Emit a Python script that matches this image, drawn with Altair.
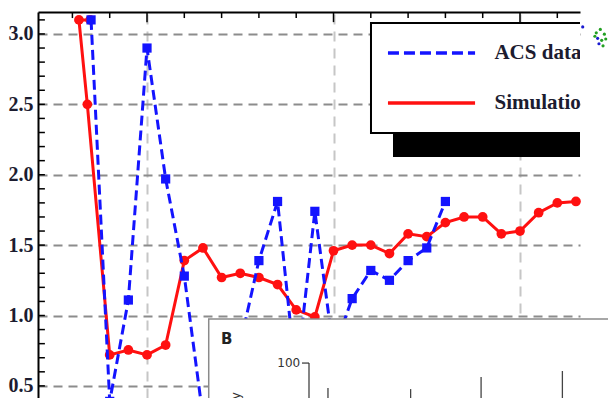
import altair as alt
import pandas as pd

# ---------------- data ----------------
acs_x = list(range(7, 27))
acs_y = [3.10, 0.39, 1.11, 2.90, 1.97, 1.28, 0.28, 0.35, 0.80, 1.39,
         1.81, 0.55, 1.74, 0.75, 1.12, 1.32, 1.25, 1.39, 1.48, 1.81]

sim_x = [6.95, 6.35, 6.8] + list(range(8, 34))
sim_y = [3.10, 3.10, 2.50, 0.72, 0.755, 0.72, 0.79, 1.39, 1.48, 1.27,
         1.30, 1.27, 1.22, 1.04, 0.99, 1.46, 1.50, 1.50, 1.44, 1.58,
         1.56, 1.66, 1.70, 1.70, 1.58, 1.60, 1.73, 1.80, 1.81]

y_tick_values = [0.5, 1.0, 1.5, 2.0, 2.5, 3.0]
x_grid_values = [10, 20, 30]
legend_labels = ["ACS data", "Simulation"]

# inset panel B
inset_bar_x = [11.4, 12.36, 17.5, 22.7, 28.7]
inset_bar_y = [81.8, 73.0, 81.0, 89.8, 94.2]
inset_tick_label = "100"

X_DOM = [4.155, 33.217]
Y_DOM = [0.414, 3.156]
IX_DOM = [-10, 30]
IY_DOM = [74.5, 356.2]

xs = alt.Scale(domain=X_DOM, nice=False, zero=False)
ys = alt.Scale(domain=Y_DOM, nice=False, zero=False)
ixs = alt.Scale(domain=IX_DOM, nice=False, zero=False)
iys = alt.Scale(domain=IY_DOM, nice=False, zero=False)

x_axis = alt.Axis(orient="top", labels=False, ticks=False, domain=True,
                  domainColor="black", domainWidth=2, grid=True,
                  values=x_grid_values, gridColor="#c6c6c6",
                  gridDash=[10, 7], gridWidth=2, title=None)
y_axis = alt.Axis(values=y_tick_values, format=".1f",
                  labelFont="Liberation Serif", labelFontWeight="bold",
                  labelFontSize=20, labelColor="#1c1c30", ticks=False,
                  labelPadding=5, domainColor="black", domainWidth=2,
                  grid=True, gridColor="#8c8c8c", gridDash=[9, 6],
                  gridWidth=2, title=None)

X = alt.X("x:Q", scale=xs, axis=x_axis)
Y = alt.Y("y:Q", scale=ys, axis=y_axis)

sim_df = pd.DataFrame({"x": sim_x, "y": sim_y, "ord": list(range(len(sim_x)))})
acs_df = pd.DataFrame({"x": acs_x, "y": acs_y})

RED = "#ff1010"
BLUE = "#1414ff"

sim_line = alt.Chart(sim_df).mark_line(color=RED, strokeWidth=3).encode(
    x=X, y=Y, order="ord:Q")
sim_pts = alt.Chart(sim_df).mark_circle(color=RED, size=95, opacity=1).encode(x=X, y=Y)
acs_line = alt.Chart(acs_df).mark_line(color=BLUE, strokeWidth=3,
                                       strokeDash=[10, 5]).encode(x=X, y=Y)
acs_pts = alt.Chart(acs_df).mark_square(color=BLUE, size=85, opacity=1).encode(x=X, y=Y)

# inward ticks on left and top axes
left_ticks = pd.DataFrame({"y": [round(0.5 + 0.1 * i, 2) for i in range(27)]})
left_ticks["x"] = X_DOM[0]
left_ticks["x2"] = X_DOM[0] + 0.37
lt = alt.Chart(left_ticks).mark_rule(color="black", strokeWidth=1.5).encode(
    x=X, x2="x2:Q", y=Y)

top_vals = list(range(6, 33, 2))
top_ticks = pd.DataFrame({"x": top_vals})
top_ticks["y"] = Y_DOM[1]
top_ticks["y2"] = [Y_DOM[1] - (0.072 if v % 10 == 0 else 0.043) for v in top_vals]
tt = alt.Chart(top_ticks).mark_rule(color="black", strokeWidth=1.5).encode(
    x=X, y=Y, y2="y2:Q")

# legend box (clipped at the right edge like the reference)
shadow = alt.Chart(pd.DataFrame({"x": [23.19], "x2": [34.0], "y": [2.126], "y2": [2.40]})).mark_rect(
    color="black", clip=True).encode(x=X, x2="x2:Q", y=Y, y2="y2:Q")
box = alt.Chart(pd.DataFrame({"x": [22.01], "x2": [34.0], "y": [2.297], "y2": [3.078]})).mark_rect(
    fill="white", stroke="black", strokeWidth=2, clip=True).encode(x=X, x2="x2:Q", y=Y, y2="y2:Q")
leg_acs = alt.Chart(pd.DataFrame({"x": [22.92], "x2": [27.59], "y": [2.865]})).mark_rule(
    color=BLUE, strokeWidth=3.5, strokeDash=[11, 5]).encode(x=X, x2="x2:Q", y=Y)
leg_sim = alt.Chart(pd.DataFrame({"x": [22.92], "x2": [27.59], "y": [2.510]})).mark_rule(
    color=RED, strokeWidth=3.5).encode(x=X, x2="x2:Q", y=Y)
leg_text = alt.Chart(pd.DataFrame({"x": [28.63, 28.63], "y": [2.865, 2.510],
                                   "t": legend_labels})).mark_text(
    align="left", baseline="middle", font="Liberation Serif", fontWeight="bold",
    fontSize=21, color="#1c1c30", clip=True).encode(x=X, y=Y, text="t:N")

main = alt.layer(sim_line, sim_pts, acs_line, acs_pts, lt, tt,
                 shadow, box, leg_acs, leg_sim, leg_text)

# ---------------- inset panel B ----------------
IX = alt.X("ix:Q", scale=ixs, axis=None)
IY = alt.Y("iy:Q", scale=iys, axis=None)

ibox = alt.Chart(pd.DataFrame({"ix": [2.6], "ix2": [45.0], "iy": [-50.0], "iy2": [132.1]})).mark_rect(
    fill="white", stroke="#8a8a8a", strokeWidth=1.5).encode(x=IX, x2="ix2:Q", y=IY, y2="iy2:Q")
iaxis = alt.Chart(pd.DataFrame({"ix": [10.0], "iy": [-50.0], "iy2": [100.0]})).mark_rule(
    color="#333333", strokeWidth=1.2).encode(x=IX, y=IY, y2="iy2:Q")
itick = alt.Chart(pd.DataFrame({"ix": [9.48], "ix2": [10.0], "iy": [100.0]})).mark_rule(
    color="#333333", strokeWidth=1.2).encode(x=IX, x2="ix2:Q", y=IY)
ilabel = alt.Chart(pd.DataFrame({"ix": [9.35], "iy": [100.0], "t": [inset_tick_label]})).mark_text(
    align="right", baseline="middle", font="DejaVu Sans", fontSize=12, color="#333333").encode(
    x=IX, y=IY, text="t:N")
bars = alt.Chart(pd.DataFrame({"ix": inset_bar_x, "iy": inset_bar_y,
                               "iy0": [-50.0] * len(inset_bar_x)})).mark_rule(
    color="#444444", strokeWidth=1.3).encode(x=IX, y=IY, y2="iy0:Q")
iB = alt.Chart(pd.DataFrame({"ix": [3.5], "iy": [117.5], "t": ["B"]})).mark_text(
    align="left", baseline="middle", font="DejaVu Sans", fontWeight="bold", fontSize=15,
    color="#222222").encode(x=IX, y=IY, text="t:N")
ititle = alt.Chart(pd.DataFrame({"ix": [4.6, 6.16], "iy": [78.8, 70.8],
                                 "t": ["Probability", "(%)"]})).mark_text(
    align="right", baseline="middle", angle=270, font="DejaVu Sans", fontSize=12,
    color="#333333").encode(x=IX, y=IY, text="t:N")

blob_x = [30.2, 31.2, 31.5, 31.8, 31.3, 31.6, 31.9, 31.4, 31.7, 31.1]
blob_y = [345.3, 341.0, 343.5, 340.0, 337.0, 335.5, 336.5, 333.0, 331.5, 338.5]
blob_c = ["b", "g", "g", "g", "b", "g", "g", "b", "g", "g"]
blob = alt.Chart(pd.DataFrame({"ix": blob_x, "iy": blob_y, "c": blob_c})).mark_circle(
    size=10, opacity=1).encode(
    x=IX, y=IY,
    color=alt.Color("c:N", scale=alt.Scale(domain=["b", "g"], range=["#1a1ad0", "#22a022"]),
                    legend=None))

inset = alt.layer(ibox, iaxis, itick, ilabel, bars, iB, ititle, blob)

chart = alt.layer(main, inset).resolve_scale(
    x="independent", y="independent"
).properties(
    width=542, height=386,
    autosize=alt.AutoSizeParams(type="none"),
    padding={"left": 30, "top": 4, "right": 28, "bottom": 0},
    background="white",
).configure_view(stroke=None)

chart.save("out.html", embed_options={"renderer": "svg", "actions": False})
